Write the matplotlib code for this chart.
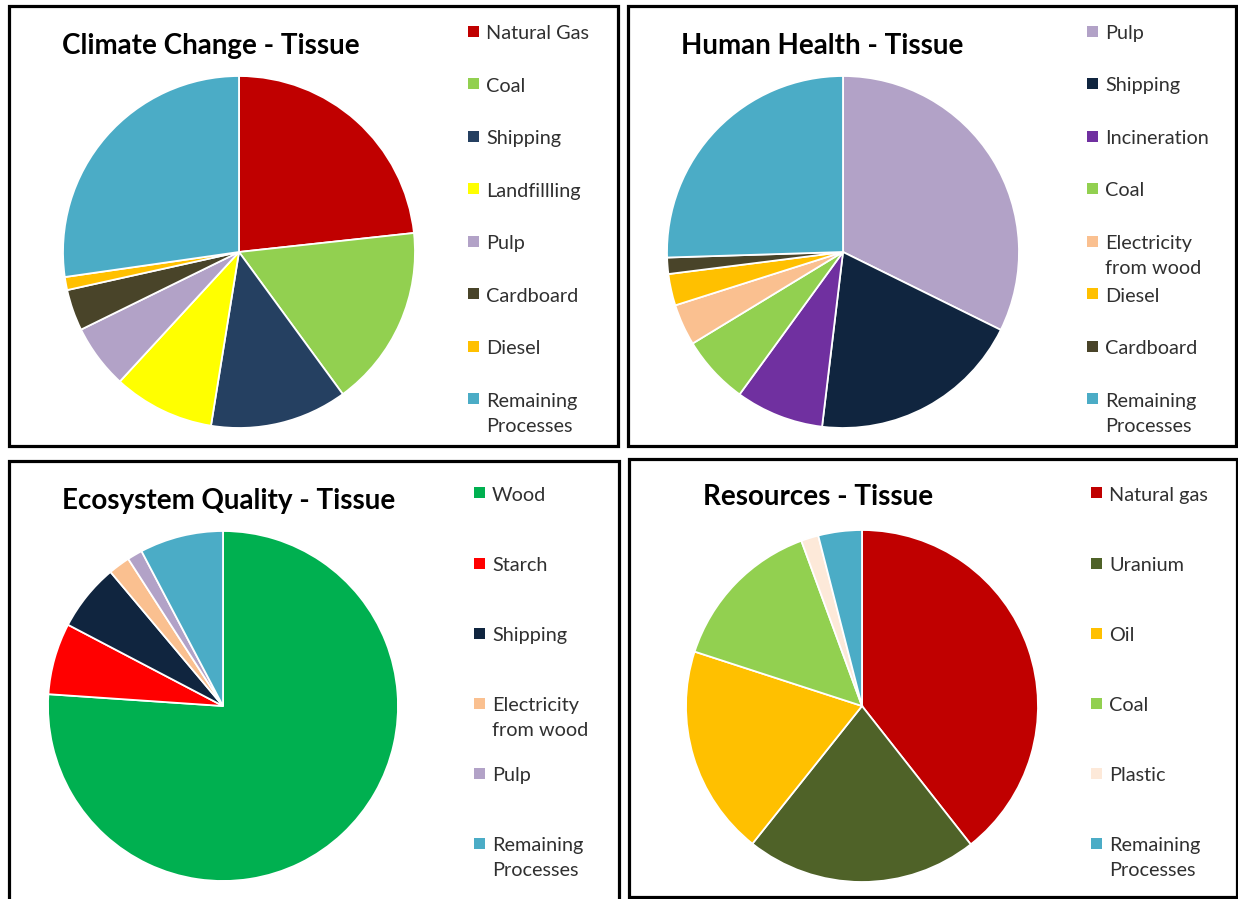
import matplotlib
matplotlib.use("Agg")
import matplotlib.pyplot as plt
from matplotlib.patches import Rectangle

plt.rcParams['font.family'] = ['Lato', 'DejaVu Sans']

W, H = 1238, 899

# ---------------- data ----------------
cc_title = "Climate Change - Tissue"
cc_labels = ["Natural Gas", "Coal", "Shipping", "Landfillling", "Pulp", "Cardboard", "Diesel", "Remaining\nProcesses"]
cc_values = [23.3, 16.7, 12.6, 9.3, 5.9, 3.8, 1.2, 27.3]
cc_colors = ["#C00000", "#92D050", "#254061", "#FFFF00", "#B2A2C7", "#494429", "#FFC000", "#4BACC6"]

hh_title = "Human Health - Tissue"
hh_labels = ["Pulp", "Shipping", "Incineration", "Coal", "Electricity\nfrom wood", "Diesel", "Cardboard", "Remaining\nProcesses"]
hh_values = [32.3, 19.6, 8.1, 6.3, 3.8, 2.9, 1.5, 25.5]
hh_colors = ["#B2A2C7", "#10253F", "#7030A0", "#92D050", "#FAC090", "#FFC000", "#494429", "#4BACC6"]

eq_title = "Ecosystem Quality - Tissue"
eq_labels = ["Wood", "Starch", "Shipping", "Electricity\nfrom wood", "Pulp", "Remaining\nProcesses"]
eq_values = [76.0, 6.6, 6.2, 2.0, 1.4, 7.7]
eq_colors = ["#00B050", "#FF0000", "#10253F", "#FAC090", "#B2A2C7", "#4BACC6"]

rs_title = "Resources - Tissue"
rs_labels = ["Natural gas", "Uranium", "Oil", "Coal", "Plastic", "Remaining\nProcesses"]
rs_values = [39.4, 21.3, 19.3, 14.4, 1.6, 4.0]
rs_colors = ["#C00000", "#4F6228", "#FFC000", "#92D050", "#FDE9D9", "#4BACC6"]

# ---------------- layout (pixels) ----------------
panels = [
    dict(title=cc_title, labels=cc_labels, values=cc_values, colors=cc_colors,
         box=(9, 6, 618, 446), center=(239, 252), r=176, title_xy=(62, 46),
         leg_x=468, leg_y=31, leg_dy=52.5),
    dict(title=hh_title, labels=hh_labels, values=hh_values, colors=hh_colors,
         box=(628, 6, 1236, 446), center=(843, 252), r=176, title_xy=(681, 46),
         leg_x=1087, leg_y=31, leg_dy=52.5),
    dict(title=eq_title, labels=eq_labels, values=eq_values, colors=eq_colors,
         box=(9, 461, 619, 902), center=(223, 706), r=175, title_xy=(62, 501),
         leg_x=474, leg_y=493, leg_dy=70),
    dict(title=rs_title, labels=rs_labels, values=rs_values, colors=rs_colors,
         box=(629, 459, 1237, 897), center=(862, 706), r=176, title_xy=(703, 497),
         leg_x=1091, leg_y=493, leg_dy=70),
]

fig = plt.figure(figsize=(W / 100, H / 100), dpi=100)
fig.patch.set_facecolor("white")


def fx(x):
    return x / W


def fy(y):
    return 1 - y / H


for p in panels:
    x0, y0, x1, y1 = p["box"]
    fig.patches.append(Rectangle((fx(x0), fy(y1)), fx(x1) - fx(x0), fy(y0) - fy(y1),
                                 transform=fig.transFigure, fill=False,
                                 edgecolor="black", linewidth=2.3, zorder=0))
    cx, cy = p["center"]
    r = p["r"]
    ax = fig.add_axes([fx(cx - r), fy(cy + r), 2 * r / W, 2 * r / H])
    ax.pie(p["values"], colors=p["colors"], startangle=90, counterclock=False,
           radius=1.0,
           wedgeprops=dict(edgecolor="white", linewidth=1.3))
    ax.set_xlim(-1.0, 1.0)
    ax.set_ylim(-1.0, 1.0)
    ax.set_aspect("auto")
    ax.axis("off")

    tx, ty = p["title_xy"]
    fig.text(fx(tx), fy(ty), p["title"], fontsize=20, fontweight="bold",
             color="black", ha="left", va="center")

    for i, (lab, col) in enumerate(zip(p["labels"], p["colors"])):
        ly = p["leg_y"] + i * p["leg_dy"]
        s = 11
        fig.patches.append(Rectangle((fx(p["leg_x"]), fy(ly + s / 2)), s / W, s / H,
                                     transform=fig.transFigure, facecolor=col,
                                     edgecolor="none"))
        fig.text(fx(p["leg_x"] + 18), fy(ly - 6), lab, fontsize=14.3,
                 color="#303030", ha="left", va="top", linespacing=1.6)

fig.savefig("out.png", dpi=100, facecolor="white")
